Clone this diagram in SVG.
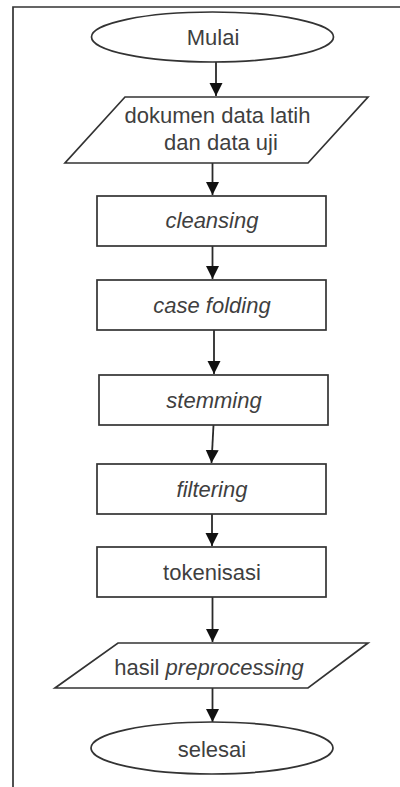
<svg xmlns="http://www.w3.org/2000/svg" width="400" height="787" viewBox="0 0 400 787">
<style>
.shape{fill:#fff;stroke:#333;stroke-width:1.7}
.t{font-family:"Liberation Sans",Arial,sans-serif;font-size:22px;fill:#3f3f3f;text-anchor:middle}
.i{font-style:italic}
.c{stroke:#2a2a2a;stroke-width:1.8;fill:none}
</style>
<defs>
<marker id="ah" markerWidth="14" markerHeight="14" refX="13" refY="6.5" orient="auto" markerUnits="userSpaceOnUse">
<path d="M0,0 L13,6.5 L0,13 Z" fill="#111"/>
</marker>
</defs>
<rect width="400" height="787" fill="#fff"/>
<path d="M13,787 L13,7 L400,7" fill="none" stroke="#333" stroke-width="1.7"/>
<g id="connectors">
<line class="c" x1="216" y1="62" x2="216" y2="96" marker-end="url(#ah)"/>
<line class="c" x1="212.5" y1="163" x2="212.5" y2="195" marker-end="url(#ah)"/>
<line class="c" x1="212.5" y1="246" x2="212.5" y2="279" marker-end="url(#ah)"/>
<line class="c" x1="214" y1="330" x2="214" y2="374" marker-end="url(#ah)"/>
<line class="c" x1="213.5" y1="425" x2="211.5" y2="463" marker-end="url(#ah)"/>
<line class="c" x1="212" y1="514" x2="212" y2="546" marker-end="url(#ah)"/>
<line class="c" x1="212.5" y1="597" x2="212.5" y2="642" marker-end="url(#ah)"/>
<line class="c" x1="212.5" y1="688" x2="212.5" y2="722" marker-end="url(#ah)"/>
</g>
<g id="mulai">
<ellipse class="shape" cx="212.5" cy="37" rx="121" ry="25"/>
<text class="t" x="213" y="45">Mulai</text>
</g>
<g id="dokumen">
<polygon class="shape" points="125,97 368,97 308,163 65,163"/>
<text class="t" x="217.5" y="123">dokumen data latih</text>
<text class="t" x="221" y="150">dan data uji</text>
</g>
<g id="cleansing">
<rect class="shape" x="97" y="196" width="229" height="50"/>
<text class="t i" x="212" y="228">cleansing</text>
</g>
<g id="casefolding">
<rect class="shape" x="97" y="280" width="229" height="50"/>
<text class="t i" x="212" y="313">case folding</text>
</g>
<g id="stemming">
<rect class="shape" x="99" y="375" width="229" height="50"/>
<text class="t i" x="214" y="408">stemming</text>
</g>
<g id="filtering">
<rect class="shape" x="97" y="464" width="229" height="50"/>
<text class="t i" x="212" y="497">filtering</text>
</g>
<g id="tokenisasi">
<rect class="shape" x="97" y="547" width="229" height="50"/>
<text class="t" x="212" y="580">tokenisasi</text>
</g>
<g id="hasil">
<polygon class="shape" points="118,643 368,643 308,688 55,688"/>
<text class="t" x="209" y="675">hasil <tspan class="i">preprocessing</tspan></text>
</g>
<g id="selesai">
<ellipse class="shape" cx="212" cy="748" rx="121" ry="26"/>
<text class="t" x="212" y="757">selesai</text>
</g>
</svg>
